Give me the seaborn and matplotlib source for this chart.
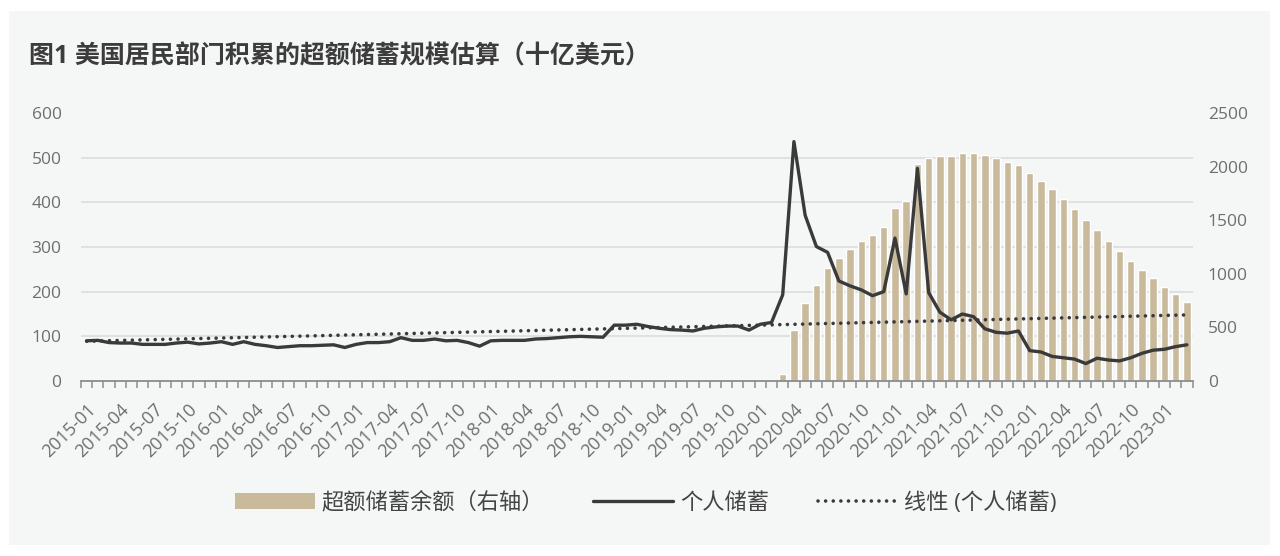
import numpy as np
import pandas as pd
import matplotlib
matplotlib.use("Agg")
import matplotlib.pyplot as plt
import seaborn as sns
from matplotlib.patches import Rectangle, Patch
from matplotlib.lines import Line2D
from matplotlib.ticker import FixedLocator

# ---------------- data ----------------
months = pd.period_range("2015-01", "2023-03", freq="M").strftime("%Y-%m").tolist()

personal_saving = [
    90, 91, 86, 85, 85, 82, 82, 82, 85, 87, 83, 85,          # 2015
    88, 82, 88, 82, 79, 75, 77, 79, 79, 80, 81, 75,          # 2016
    82, 86, 86, 88, 97, 91, 91, 94, 90, 91, 86, 78,          # 2017
    90, 91, 91, 91, 94, 95, 97, 99, 100, 99, 98, 125,        # 2018
    125, 127, 122, 118, 115, 114, 112, 118, 121, 123, 123, 114,  # 2019
    127, 131, 193, 536, 371, 301, 288, 224, 213, 204, 191, 200,  # 2020
    320, 195, 476, 198, 154, 137, 150, 144, 117, 109, 107, 112,  # 2021
    68, 65, 55, 52, 49, 39, 51, 47, 45, 52, 62, 69,          # 2022
    71, 77, 81,                                              # 2023
]

excess_start = "2020-03"
excess_saving = [
    63, 473, 724, 896, 1050, 1147, 1234, 1303, 1363, 1432,
    1617, 1682, 2024, 2080, 2102, 2102, 2124, 2130, 2112, 2077,
    2046, 2018, 1943, 1870, 1789, 1695, 1601, 1504, 1413, 1310,
    1209, 1118, 1031, 959, 880, 811, 739,
]

title = "图1 美国居民部门积累的超额储蓄规模估算（十亿美元）"
label_bar = "超额储蓄余额（右轴）"
label_line = "个人储蓄"
label_trend = "线性 (个人储蓄)"
left_ticks = [0, 100, 200, 300, 400, 500, 600]
right_ticks = [0, 500, 1000, 1500, 2000, 2500]

# ---------------- frames ----------------
pos = np.arange(len(months))
df_line = pd.DataFrame({"pos": pos, "saving": personal_saving})
coef = np.polyfit(df_line["pos"], df_line["saving"], 1)
df_line["trend"] = np.polyval(coef, df_line["pos"])

start = months.index(excess_start)
df_bar = pd.DataFrame({"pos": pos[start:start + len(excess_saving)],
                       "excess": excess_saving})

# ---------------- style ----------------
sns.set_theme(style="white")
plt.rcParams["font.family"] = ["Open Sans", "Noto Sans CJK SC", "DejaVu Sans"]
plt.rcParams["axes.unicode_minus"] = False

W, H = 1280, 556
BAR_C = "#c9ba9c"
LINE_C = "#3a3a3a"
TXT_C = "#6e6e6e"
DOTS = (0, (0.01, 2.1))

fig = plt.figure(figsize=(W / 100, H / 100), dpi=100, facecolor="white")
fig.patches.append(Rectangle((9 / W, (H - 545) / H), (1270 - 9) / W, (545 - 11) / H,
                             transform=fig.transFigure, facecolor="#f5f7f7",
                             edgecolor="none", zorder=-10))

ax = fig.add_axes([81 / W, (H - 381) / H, (1192.5 - 81) / W, (381 - 113) / H])
ax.set_facecolor("none")

sns.barplot(data=df_bar, x="pos", y="excess", native_scale=True, color=BAR_C,
            saturation=1, width=0.66, ax=ax, zorder=2)

ax2 = ax.twinx()
sns.lineplot(data=df_line, x="pos", y="saving", ax=ax2, color=LINE_C, lw=2.4,
             zorder=4)
sns.lineplot(data=df_line, x="pos", y="trend", ax=ax2, color=LINE_C, lw=2.6,
             linestyle=DOTS, dash_capstyle="round", zorder=3)

# right axis (bars)
ax.set_ylim(0, 2500)
ax.yaxis.tick_right()
ax.set_yticks(right_ticks)
ax.yaxis.set_minor_locator(FixedLocator(np.linspace(0, 2500, len(left_ticks))))
ax.yaxis.grid(True, which="minor", color="#d9d9d9", lw=1.1)
ax.yaxis.grid(False, which="major")
ax.tick_params(axis="y", which="both", length=0, pad=11, labelsize=12.5,
               labelcolor=TXT_C)
ax.set_ylabel("")
ax.set_xlabel("")

# left axis (lines)
ax2.set_ylim(0, 600)
ax2.yaxis.tick_left()
ax2.set_yticks(left_ticks)
ax2.tick_params(axis="y", length=0, pad=14, labelsize=12.5, labelcolor=TXT_C)
ax2.set_ylabel("")
ax2.set_xlabel("")

# x axis
ax.set_xlim(-0.5, len(months) - 0.5)
ax.set_xticks(pos[::3])
ax.set_xticklabels(months[::3], rotation=45, ha="right", va="top",
                   rotation_mode="anchor", fontsize=13, color=TXT_C)
ax.xaxis.set_minor_locator(FixedLocator(np.arange(-0.5, len(months), 1)))
ax.tick_params(axis="x", which="major", length=0, pad=14)
ax.tick_params(axis="x", which="minor", length=5, width=1.1, color="#8c8c8c",
               direction="out", bottom=True)

for a in (ax, ax2):
    for s in a.spines.values():
        s.set_visible(False)
ax.spines["bottom"].set_visible(True)
ax.spines["bottom"].set_color("#8c8c8c")
ax.spines["bottom"].set_linewidth(1.3)
ax.spines["bottom"].set_zorder(5)

# title
fig.text(29 / W, 1 - 57 / H, title, fontsize=18, fontweight="bold",
         color="#3c3c3c", ha="left", va="center")

# legend
handles = [
    Patch(facecolor=BAR_C, edgecolor="none"),
    Line2D([], [], color=LINE_C, lw=2.4),
    Line2D([], [], color=LINE_C, lw=2.6, linestyle=DOTS, dash_capstyle="round"),
]
fig.legend(handles, [label_bar, label_line, label_trend], loc="center",
           bbox_to_anchor=(646 / W, 1 - 503 / H), ncol=3, frameon=False,
           fontsize=16, handlelength=3.6, handleheight=0.75, handletextpad=0.3,
           columnspacing=2.2, labelcolor="#444444")

fig.savefig("out.png", dpi=100, facecolor="white")
